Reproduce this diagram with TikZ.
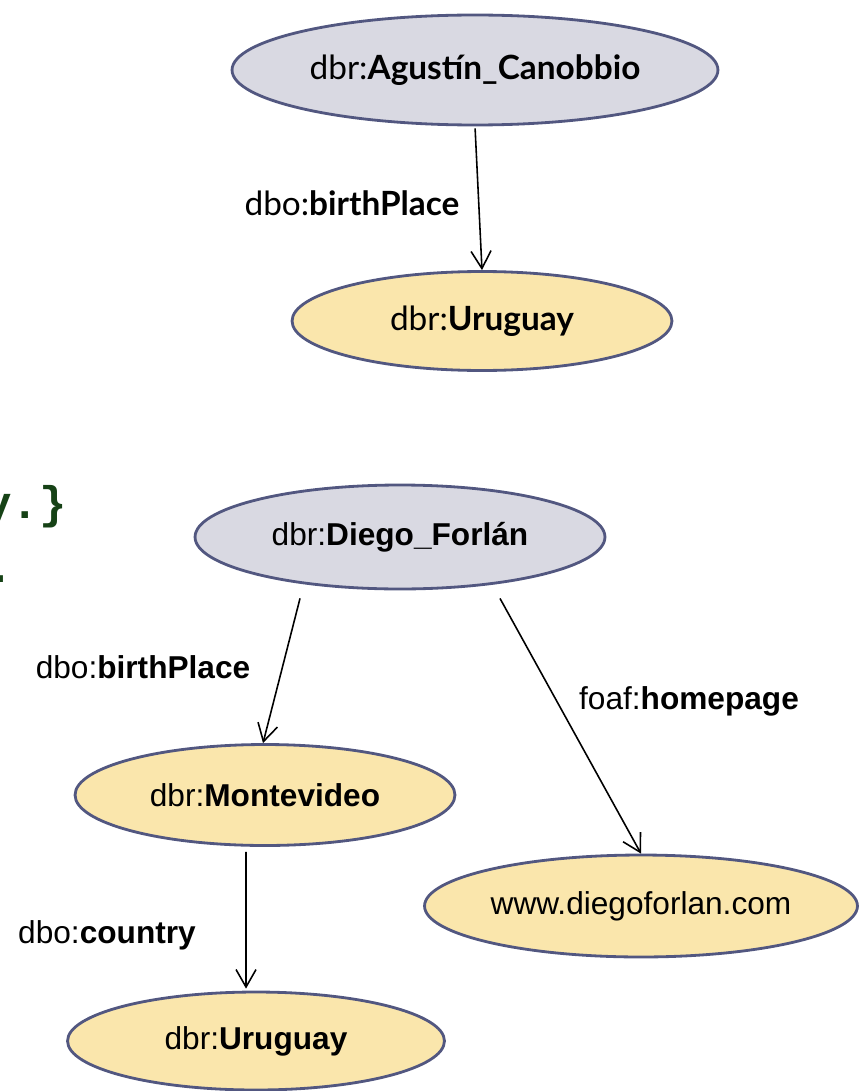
\documentclass[tikz,border=0pt]{standalone}
\usepackage{fontspec}
\setmainfont{Liberation Sans}
\setmonofont{Liberation Mono}
\newfontfamily\humanist{Lato}
\usetikzlibrary{arrows.meta,positioning,shapes.geometric}
\definecolor{resfill}{RGB}{217,217,226}
\definecolor{litfill}{RGB}{250,230,172}
\definecolor{rim}{RGB}{82,87,128}
\definecolor{codegreen}{RGB}{22,66,22}

\begin{document}
\begin{tikzpicture}[
   x=0.02cm,y=-0.02cm,
   res/.style={ellipse,draw=rim,line width=1.6pt,fill=resfill,inner sep=0pt},
   lit/.style={res,fill=litfill},
   arr/.style={-{Straight Barb[length=3.5mm,width=4mm]},line width=0.9pt},
   lbl/.style={inner sep=0pt},
   code/.style={anchor=base east,inner sep=0pt,text=codegreen,
                font=\ttfamily\bfseries\fontsize{26}{32}\selectfont}
 ]
  \useasboundingbox (0,0) rectangle (858,1091);

  % single triple
  \node[res,minimum width=9.72cm,minimum height=2.2cm,font=\humanist\fontsize{19}{22}\selectfont]
       (canobbio) at (475,70) {dbr:\textbf{Agustín\_Canobbio}};
  \node[lit,minimum width=7.6cm,minimum height=1.98cm,font=\humanist\fontsize{19}{22}\selectfont]
       (uruA) at (482,321) {dbr:\textbf{Uruguay}};
  \node[lbl,font=\humanist\fontsize{19}{22}\selectfont] (bpA) at (352,203) {dbo:\textbf{birthPlace}};
  \draw[arr,shorten <=0.04cm] (canobbio.south) -- (uruA.north);

  % query tail, cut at the edge
  \node[code] (tailA) at (67,518) {y.\}};
  \node[code] (tailB) at (14,582) {.};

  % graph around Forlan
  \node[res,minimum width=8.2cm,minimum height=2.08cm,font=\fontsize{18}{21}\selectfont]
       (forlan) at (400,537) {dbr:\textbf{Diego\_Forlán}};
  \node[lit,minimum width=7.6cm,minimum height=2.02cm,font=\fontsize{18}{21}\selectfont]
       (monte) at (265,795) {dbr:\textbf{Montevideo}};
  \node[lit,minimum width=8.66cm,minimum height=2.04cm,font=\fontsize{18}{21}\selectfont]
       (home) at (641,906) {www.diegoforlan.com};
  \node[lit,minimum width=7.54cm,minimum height=1.96cm,font=\fontsize{18}{21}\selectfont]
       (uruB) at (256,1041) {dbr:\textbf{Uruguay}};
  \node[lbl,font=\fontsize{18}{21}\selectfont] (bpB) at (143,667) {dbo:\textbf{birthPlace}};
  \node[lbl,font=\fontsize{18}{21}\selectfont] (hp) at (689,701) {foaf:\textbf{homepage}};
  \node[lbl,font=\fontsize{18}{21}\selectfont] (ctry) at (107,935) {dbo:\textbf{country}};
  \draw[arr] ([xshift=-2cm,yshift=-0.16cm]forlan.south) -- ([xshift=-0.04cm]monte.north);
  \draw[arr] ([xshift=2cm,yshift=-0.16cm]forlan.south) -- (home.north);
  \draw[arr] ([xshift=-0.38cm,yshift=-0.1cm]monte.south) -- ([xshift=-0.2cm,yshift=0.04cm]uruB.north);
\end{tikzpicture}
\end{document}
